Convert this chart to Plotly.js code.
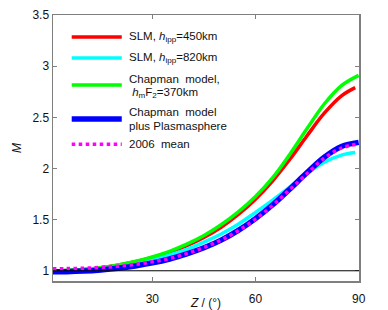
<!DOCTYPE html>
<html>
<head>
<meta charset="utf-8">
<script src="https://cdn.plot.ly/plotly-3.0.1.min.js"></script>
<style>html,body{margin:0;padding:0;background:#fff;}#chart{width:388px;height:310px;}</style>
</head>
<body>
<div id="chart"></div>
<script>
// Zenith angle samples (degrees)
var zenithA = [1, 5, 10, 15, 20, 25, 30, 35, 40, 45, 50, 55, 60, 65, 70, 75, 80, 85, 90];
var zenithB = [1, 5, 10, 15, 20, 25, 30, 35, 40, 45, 50, 55, 60, 65, 70, 75, 80, 85, 89];

// Mapping function M
var slm450   = [1.00, 1.003, 1.013, 1.03, 1.055, 1.088, 1.13, 1.18, 1.245, 1.325, 1.425, 1.55, 1.70, 1.88, 2.09, 2.32, 2.54, 2.71, 2.79];
var slm820   = [1.00, 1.003, 1.011, 1.025, 1.046, 1.074, 1.11, 1.155, 1.21, 1.28, 1.36, 1.455, 1.57, 1.69, 1.82, 1.95, 2.06, 2.13, 2.155];
var chapman  = [1.00, 1.003, 1.013, 1.03, 1.057, 1.09, 1.135, 1.19, 1.26, 1.345, 1.45, 1.575, 1.725, 1.91, 2.14, 2.39, 2.63, 2.81, 2.91];
var chapPlas = [0.99, 0.991, 0.997, 1.008, 1.024, 1.047, 1.077, 1.115, 1.165, 1.225, 1.30, 1.395, 1.51, 1.645, 1.80, 1.96, 2.11, 2.215, 2.255];
var mean2006 = [1.02, 1.021, 1.025, 1.033, 1.045, 1.063, 1.088, 1.12, 1.168, 1.228, 1.30, 1.392, 1.505, 1.64, 1.795, 1.95, 2.10, 2.20, 2.24];

var xTicks = [30, 60, 90];
var yTicks = [1, 1.5, 2, 2.5, 3, 3.5];

var seriesNames = [
  ['SLM, <i>h</i><sub>ipp</sub>=450km'],
  ['SLM, <i>h</i><sub>ipp</sub>=820km'],
  ['Chapman  model,', ' <i>h</i><sub>m</sub>F<sub>2</sub>=370km'],
  ['Chapman  model', 'plus Plasmasphere'],
  ['2006  mean']
];

var colors = ['#ff0000', '#00ffff', '#00ff00', '#0000ff', '#ff00ff'];
var widths = [3.5, 3.5, 3.5, 5.5, 3.5];
var dashes = ['solid', 'solid', 'solid', 'solid', 'dot'];
var xs = [zenithB, zenithB, zenithA, zenithA, zenithA];
var ys = [slm450, slm820, chapman, chapPlas, mean2006];

var traces = [];
for (var i = 0; i < ys.length; i++) {
  traces.push({
    x: xs[i], y: ys[i], type: 'scatter', mode: 'lines',
    line: {color: colors[i], width: widths[i], dash: dashes[i], shape: 'spline', smoothing: 1},
    showlegend: false, hoverinfo: 'skip'
  });
}

// plot area in pixels
var L = 53.3, R = 359, T = 15, B = 280.7;
var W = 388, H = 310;
function px(x) { return (x - L) / (R - L); }
function py(y) { return (B - y) / (B - T); }

var shapes = [
  {type: 'line', xref: 'paper', yref: 'y', x0: 0, x1: 1, y0: 1, y1: 1, line: {color: '#000', width: 1}}
];
var annotations = [];
var legendRows = [
  {ly: 37, ty: [37]},
  {ly: 58, ty: [58]},
  {ly: 85, ty: [79, 93]},
  {ly: 119, ty: [112, 126]},
  {ly: 144, ty: [144]}
];
for (var k = 0; k < legendRows.length; k++) {
  var row = legendRows[k];
  shapes.push({type: 'line', xref: 'paper', yref: 'paper', x0: px(72), x1: px(122), y0: py(row.ly), y1: py(row.ly),
    line: {color: colors[k], width: widths[k], dash: dashes[k]}});
  for (var j = 0; j < row.ty.length; j++) {
    annotations.push({xref: 'paper', yref: 'paper', x: px(127), y: py(row.ty[j]), xanchor: 'left', yanchor: 'middle',
      text: seriesNames[k][j], showarrow: false, font: {size: 11.5, color: '#111', family: 'Liberation Sans, Arial, sans-serif'}});
  }
}

var axisCommon = {
  showgrid: false, zeroline: false, showline: true, linecolor: '#7f7f7f', linewidth: 1.5,
  mirror: 'ticks', ticks: 'inside', ticklen: 4, tickcolor: '#7f7f7f', tickwidth: 1,
  tickfont: {size: 12, color: '#111', family: 'Liberation Sans, Arial, sans-serif'}
};

var layout = {
  width: W, height: H,
  margin: {l: L, r: W - R, t: T, b: H - B, pad: 0},
  paper_bgcolor: '#fff', plot_bgcolor: '#fff',
  showlegend: false,
  font: {family: 'Liberation Sans, Arial, sans-serif', color: '#111'},
  shapes: shapes, annotations: annotations
};
layout.xaxis = Object.assign({}, axisCommon, {
  range: [1.1, 90.1], tickvals: xTicks, ticktext: xTicks.map(String), ticklabelstandoff: 6,
  title: {text: '<i>Z</i> / (°)', font: {size: 12}, standoff: 5}, automargin: false
});
layout.yaxis = Object.assign({}, axisCommon, {
  range: [0.9, 3.5], tickvals: yTicks, ticktext: yTicks.map(String),
  title: {text: '<i>M</i>', font: {size: 12}, standoff: 8}, automargin: false
});

Plotly.newPlot('chart', traces, layout, {staticPlot: true, displayModeBar: false});
</script>
</body>
</html>
